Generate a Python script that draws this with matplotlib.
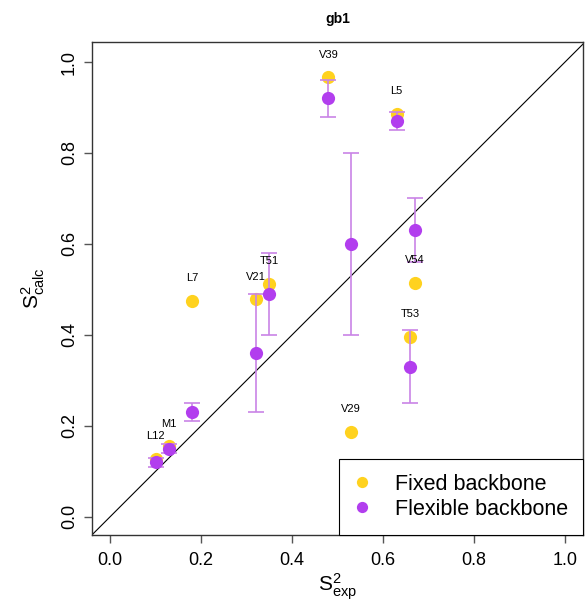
import matplotlib.pyplot as plt

plt.rcParams['font.family'] = ['Liberation Sans', 'DejaVu Sans']

# order parameters per residue
residues = ["M1", "L5", "L7", "L12", "V21", "V29", "V39", "T51", "T53", "V54"]
s2_exp = [0.13, 0.63, 0.18, 0.10, 0.32, 0.53, 0.48, 0.35, 0.66, 0.67]
s2_fixed = [0.155, 0.886, 0.475, 0.127, 0.478, 0.186, 0.966, 0.512, 0.396, 0.515]
s2_flex = [0.15, 0.87, 0.23, 0.12, 0.36, 0.60, 0.921, 0.49, 0.33, 0.63]
flex_lo = [0.14, 0.851, 0.21, 0.11, 0.23, 0.40, 0.88, 0.40, 0.25, 0.56]
flex_hi = [0.16, 0.891, 0.25, 0.13, 0.49, 0.80, 0.96, 0.58, 0.41, 0.70]

yellow = "#FFD21F"
purple = "#B23EEE"
bar_col = "#C984E6"

fig = plt.figure(figsize=(5.85, 6.07), dpi=100)
ax = fig.add_axes([0.157, 0.1186, 0.84, 0.8122])

ax.plot([-0.1, 1.1], [-0.1, 1.1], color="black", lw=0.8, zorder=1)

ax.plot(s2_exp, s2_fixed, "o", color=yellow, ms=9.5, mec="none", zorder=2,
        label="Fixed backbone")
yerr = [[f - lo for f, lo in zip(s2_flex, flex_lo)],
        [hi - f for f, hi in zip(s2_flex, flex_hi)]]
ax.errorbar(s2_exp, s2_flex, yerr=yerr, fmt="none", ecolor=bar_col,
            elinewidth=1.2, capsize=5.5, capthick=1.2, zorder=3)
ax.plot(s2_exp, s2_flex, "o", color=purple, ms=9.5, mec="none", zorder=4,
        label="Flexible backbone")

for name, x, y in zip(residues, s2_exp, s2_fixed):
    ax.text(x, y + 0.05, name, ha="center", va="center", fontsize=8, zorder=5)

ax.set_xlim(-0.04, 1.04)
ax.set_ylim(-0.04, 1.044)
ticks = [0.0, 0.2, 0.4, 0.6, 0.8, 1.0]
ax.set_xticks(ticks)
ax.set_yticks(ticks)
ax.set_xticklabels(["%.1f" % t for t in ticks], fontsize=13)
ax.set_yticklabels(["%.1f" % t for t in ticks], fontsize=13, rotation=90,
                   va="center")
ax.tick_params(axis="x", direction="out", length=6, width=1, color="#555555", pad=6)
ax.tick_params(axis="y", direction="out", length=6, width=1, color="#555555", pad=4)
for sp in ax.spines.values():
    sp.set_linewidth(1)
    sp.set_color("#333333")

ax.set_xlabel(r"$\mathregular{S^2_{exp}}$", fontsize=15, labelpad=2)
ax.set_ylabel(r"$\mathregular{S^2_{calc}}$", fontsize=15, labelpad=10)
ax.set_title("gb1", fontsize=10, fontweight="bold", pad=14)

leg = ax.legend(loc="lower right", fontsize=15.5, fancybox=False, framealpha=1,
                edgecolor="black", borderpad=0.7, handlelength=0.7,
                handletextpad=1.2, labelspacing=0.2, borderaxespad=0,
                markerscale=0.85)
leg.get_frame().set_linewidth(0.8)

fig.savefig("out.png", dpi=100)
